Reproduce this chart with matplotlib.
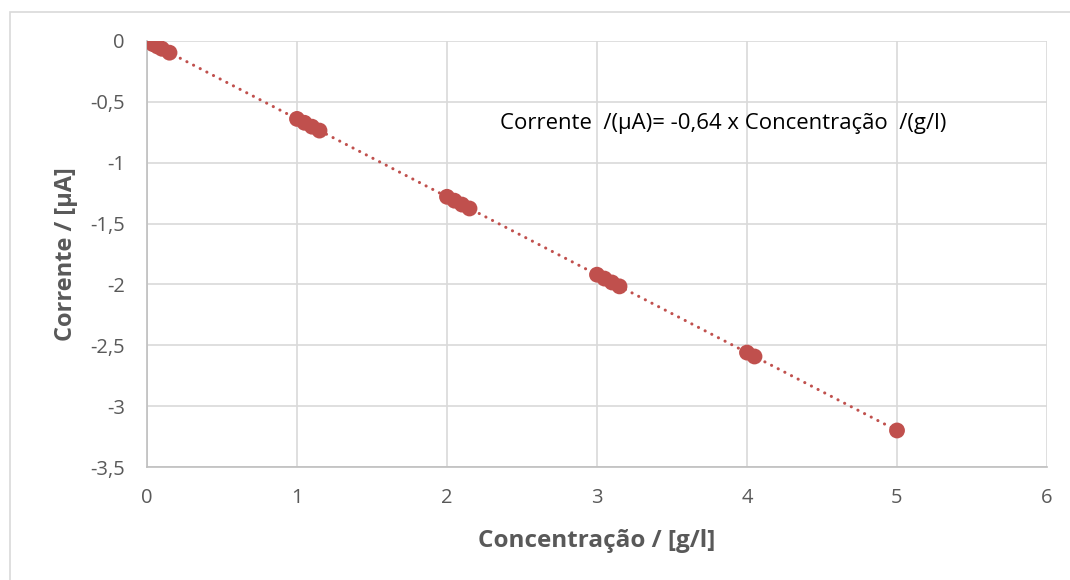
import numpy as np
import matplotlib.pyplot as plt
from matplotlib.patches import Rectangle

# calibration data: concentration [g/l] vs current [uA]
conc = [0.04, 0.07, 0.10, 0.15,
        1.00, 1.05, 1.10, 1.15,
        2.00, 2.05, 2.10, 2.15,
        3.00, 3.05, 3.10, 3.15,
        4.00, 4.05,
        5.00]
current = [-0.026, -0.045, -0.064, -0.096,
           -0.640, -0.672, -0.704, -0.736,
           -1.280, -1.312, -1.344, -1.376,
           -1.920, -1.952, -1.984, -2.016,
           -2.560, -2.592,
           -3.200]
x_ticks = [0, 1, 2, 3, 4, 5, 6]
y_ticks = [0, -0.5, -1, -1.5, -2, -2.5, -3, -3.5]

plt.rcParams['font.family'] = ['Open Sans', 'DejaVu Sans']
RED = '#C0504D'
GREY = '#595959'

fig = plt.figure(figsize=(10.7, 5.8), dpi=100)
# chart frame like excel
fig.patches.append(Rectangle((10 / 1070, -0.1), 1.2, (580 - 12) / 580 + 0.1,
                             transform=fig.transFigure, fill=False,
                             edgecolor='#D9D9D9', linewidth=1.2))
ax = fig.add_axes([147 / 1070, 1 - 467 / 580, 900 / 1070, 426 / 580])

# linear fit through origin
x = np.array(conc)
y = np.array(current)
slope = np.sum(x * y) / np.sum(x * x)
xs = np.array([0, max(conc)])
ax.plot(xs, slope * xs, color=RED, linewidth=2.2, linestyle=(0, (0.05, 2.4)),
        dash_capstyle='round', zorder=2)
ax.scatter(conc, current, s=130, color=RED, edgecolors='none', zorder=3)

ax.set_xlim(0, 6)
ax.set_ylim(-3.5, 0)
ax.set_xticks(x_ticks)
ax.set_yticks(y_ticks)
ax.set_xticklabels([str(t) for t in x_ticks])
ax.set_yticklabels([('%g' % t).replace('.', ',') for t in y_ticks])
ax.tick_params(length=0, labelsize=14.5, colors=GREY, pad=15)
ax.tick_params(axis='y', pad=16)
ax.grid(True, color='#D9D9D9', linewidth=1.2)
ax.set_axisbelow(True)
for s in ['top', 'right']:
    ax.spines[s].set_visible(False)
for s in ['left', 'bottom']:
    ax.spines[s].set_color('#BFBFBF')
    ax.spines[s].set_linewidth(1.2)

ax.set_xlabel('Concentração / [g/l]', fontsize=17.5, fontweight='bold', color=GREY, labelpad=15)
ax.set_ylabel('Corrente / [µA]', fontsize=17, fontweight='bold', color=GREY, labelpad=9)

eq = 'Corrente  /(µA)= %s x Concentração  /(g/l)' % ('%.2f' % slope).replace('.', ',')
ax.text(2.353, -0.674, eq, fontsize=15.9, color='black', va='center', ha='left')

fig.savefig('out.png', dpi=100)
